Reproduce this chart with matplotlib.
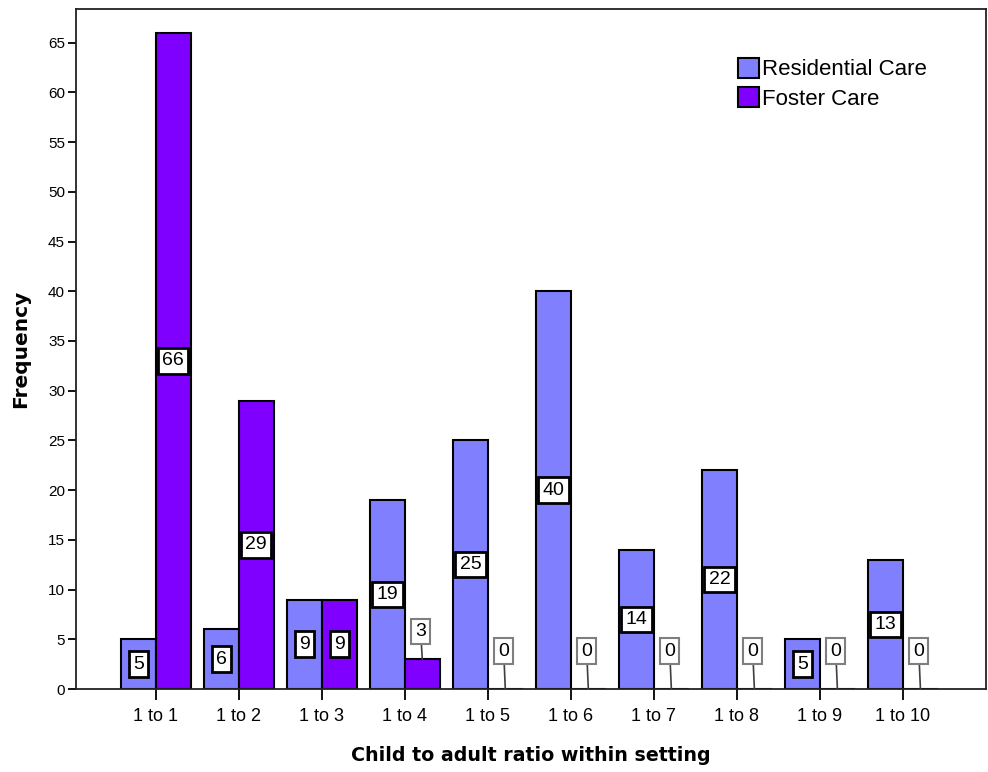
import numpy as np
import matplotlib
matplotlib.use("Agg")
from matplotlib import pyplot as plt

plt.rcParams['font.family'] = ['Liberation Sans', 'DejaVu Sans']

ratios = ["1 to 1", "1 to 2", "1 to 3", "1 to 4", "1 to 5",
          "1 to 6", "1 to 7", "1 to 8", "1 to 9", "1 to 10"]
residential = [5, 6, 9, 19, 25, 40, 14, 22, 5, 13]
foster = [66, 29, 9, 3, 0, 0, 0, 0, 0, 0]

res_color = "#8080ff"
fos_color = "#8000ff"
width = 0.42

fig = plt.figure(figsize=(9.88, 7.72), dpi=100)
ax = fig.add_axes([0.077, 0.1075, 0.921, 0.881])

x = np.arange(len(ratios))
ax.bar(x - width / 2, residential, width, color=res_color, edgecolor="black",
       linewidth=1.5, label="Residential Care")
ax.bar(x + width / 2, foster, width, color=fos_color, edgecolor="black",
       linewidth=1.5, label="Foster Care")


def put_label(xc, val):
    # small bars get their count in a box above with a leader line
    if val < 5:
        off = 3.8 if val == 0 else 2.8
        ax.annotate(str(val), xy=(xc, val), xytext=(xc - 0.02, val + off),
                    ha="center", va="center", fontsize=14,
                    bbox=dict(boxstyle="square,pad=0.22", fc="white",
                              ec="#7f7f7f", lw=1.5),
                    arrowprops=dict(arrowstyle="-", color="#404040", lw=1.2,
                                    shrinkA=0, shrinkB=0))
    else:
        ax.text(xc, val / 2, str(val), ha="center", va="center", fontsize=14,
                bbox=dict(boxstyle="square,pad=0.22", fc="white",
                          ec="black", lw=2))


for i in range(len(ratios)):
    put_label(x[i] - width / 2, residential[i])
    put_label(x[i] + width / 2, foster[i])

ax.set_xlim(-0.96, 10.0)
ax.set_ylim(0, 68.4)
ax.set_xticks(x)
ax.set_xticklabels(ratios, fontsize=13)
ax.set_yticks(np.arange(0, 66, 5))
ax.tick_params(axis="y", labelsize=11, length=6, width=1.3, pad=2)
ax.tick_params(axis="x", length=8, width=1.3, pad=6)
for s in ax.spines.values():
    s.set_linewidth(1.3)
    s.set_color("#222222")

ax.set_ylabel("Frequency", fontsize=14.5, fontweight="bold", labelpad=13,
              family="DejaVu Sans")
ax.set_xlabel("Child to adult ratio within setting", fontsize=13.7,
              fontweight="bold", labelpad=15, family="DejaVu Sans")

ax.legend(loc="upper left", bbox_to_anchor=(0.727, 0.928), frameon=False,
          fontsize=16, handlelength=0.95, handleheight=1.0,
          handletextpad=0.15, labelspacing=0.3, borderpad=0, borderaxespad=0)

fig.savefig("out.png", dpi=100)
